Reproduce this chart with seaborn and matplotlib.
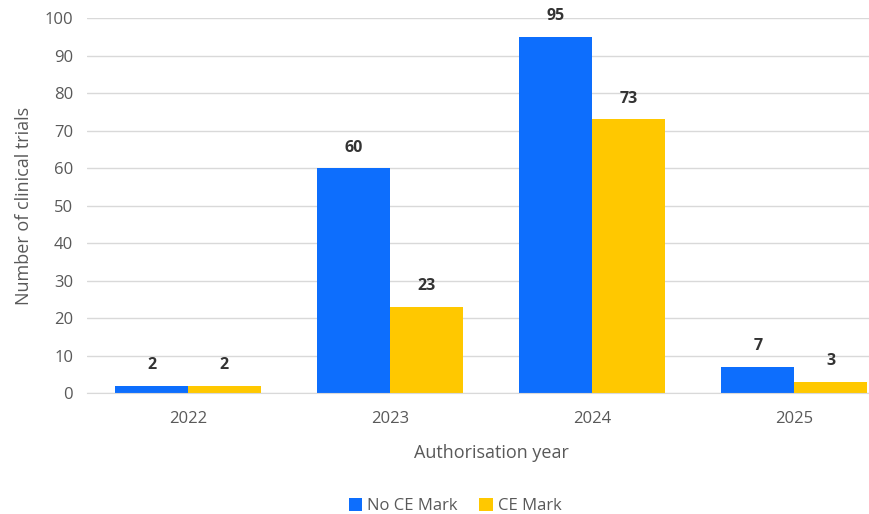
import pandas as pd
import matplotlib.pyplot as plt
import seaborn as sns

years = ['2022', '2023', '2024', '2025']
no_ce_mark = [2, 60, 95, 7]
ce_mark = [2, 23, 73, 3]
series = ['No CE Mark', 'CE Mark']

data = pd.DataFrame({
    'year': years * 2,
    'trials': no_ce_mark + ce_mark,
    'group': [series[0]] * 4 + [series[1]] * 4,
})

sns.set_style('white')
plt.rcParams['font.family'] = ['Open Sans', 'DejaVu Sans']

fig = plt.figure(figsize=(8.7, 5.14), dpi=100)
ax = fig.add_axes([0.1, 0.235, 0.929, 0.73])

palette = {'No CE Mark': '#0D6EFD', 'CE Mark': '#FFC800'}
sns.barplot(data=data, x='year', y='trials', hue='group', palette=palette,
            width=0.72, gap=0, ax=ax, saturation=1, legend=True, linewidth=0)

# value labels on top of bars
for c in ax.containers:
    ax.bar_label(c, fmt='%d', padding=9, fontsize=11.5, fontweight='bold', color='#333333')

ax.set_ylim(0, 100)
ax.set_yticks(range(0, 101, 10))
ax.yaxis.grid(True, color='#D9D9D9', linewidth=1)
ax.set_axisbelow(True)
for s in ['top', 'right', 'left']:
    ax.spines[s].set_visible(False)
ax.spines['bottom'].set_color('#D9D9D9')
ax.tick_params(axis='y', length=0, labelsize=12, labelcolor='#595959', pad=10)
ax.tick_params(axis='x', length=0, labelsize=12, labelcolor='#595959', pad=13)
ax.set_xlabel('Authorisation year', fontsize=13, color='#595959', labelpad=12)
ax.set_ylabel('Number of clinical trials', fontsize=13, color='#595959', labelpad=8)

handles, labels = ax.get_legend_handles_labels()
ax.get_legend().remove()
fig.legend(handles, labels, loc='center', bbox_to_anchor=(0.523, 0.015), ncol=2,
           frameon=False, fontsize=12, handlelength=0.8, handleheight=0.8,
           handletextpad=0.3, columnspacing=1.3, labelcolor='#595959')

fig.savefig('out.png', dpi=100)
